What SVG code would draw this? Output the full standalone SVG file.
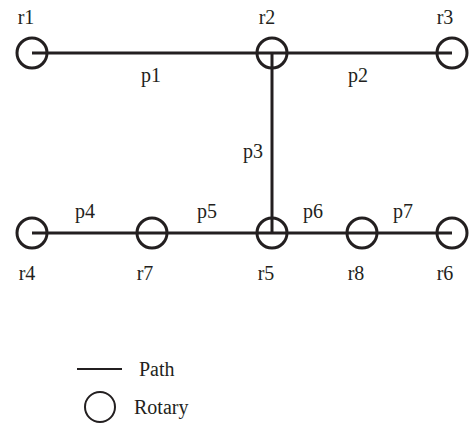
<svg xmlns="http://www.w3.org/2000/svg" width="471" height="432" viewBox="0 0 471 432">
  <style>
    .bg { fill: #ffffff; }
    .path { stroke: #231f20; stroke-width: 3; fill: none; }
    .rotary { stroke: #231f20; stroke-width: 3; fill: none; }
    .lbl { font-family: "Liberation Serif", "Times New Roman", serif; font-size: 20px; fill: #231f20; text-anchor: middle; }
    .leg { font-family: "Liberation Serif", "Times New Roman", serif; font-size: 20px; fill: #231f20; }
  </style>
  <rect class="bg" x="0" y="0" width="471" height="432"/>

  <!-- paths between rotaries -->
  <g id="connectors">
    <line id="p1" class="path" x1="32" y1="53" x2="272" y2="53"/>
    <line id="p2" class="path" x1="272" y1="53" x2="452" y2="53"/>
    <line id="p3" class="path" x1="272" y1="53" x2="272" y2="233"/>
    <line id="p4" class="path" x1="32" y1="233" x2="152" y2="233"/>
    <line id="p5" class="path" x1="152" y1="233" x2="272" y2="233"/>
    <line id="p6" class="path" x1="272" y1="233" x2="362" y2="233"/>
    <line id="p7" class="path" x1="362" y1="233" x2="452" y2="233"/>
    <text class="lbl" x="151" y="82">p1</text>
    <text class="lbl" x="358" y="82">p2</text>
    <text class="lbl" x="253" y="158">p3</text>
    <text class="lbl" x="85" y="218">p4</text>
    <text class="lbl" x="207" y="218">p5</text>
    <text class="lbl" x="313" y="218">p6</text>
    <text class="lbl" x="403" y="218">p7</text>
  </g>

  <!-- rotaries -->
  <g id="r1"><circle class="rotary" cx="32" cy="53" r="15"/><text class="lbl" x="26" y="24">r1</text></g>
  <g id="r2"><circle class="rotary" cx="272" cy="53" r="15"/><text class="lbl" x="267" y="24">r2</text></g>
  <g id="r3"><circle class="rotary" cx="452" cy="53" r="15"/><text class="lbl" x="445" y="24">r3</text></g>
  <g id="r4"><circle class="rotary" cx="32" cy="233" r="15"/><text class="lbl" x="27" y="280">r4</text></g>
  <g id="r7"><circle class="rotary" cx="152" cy="233" r="15"/><text class="lbl" x="145" y="280">r7</text></g>
  <g id="r5"><circle class="rotary" cx="272" cy="233" r="15"/><text class="lbl" x="266" y="280">r5</text></g>
  <g id="r8"><circle class="rotary" cx="362" cy="233" r="15"/><text class="lbl" x="356" y="280">r8</text></g>
  <g id="r6"><circle class="rotary" cx="452" cy="233" r="15"/><text class="lbl" x="445" y="280">r6</text></g>

  <!-- legend -->
  <g id="legend">
    <line x1="77" y1="369" x2="122" y2="369" stroke="#231f20" stroke-width="2"/>
    <text class="leg" x="139" y="376">Path</text>
    <circle cx="100" cy="407" r="15" fill="none" stroke="#231f20" stroke-width="2"/>
    <text class="leg" x="134" y="414">Rotary</text>
  </g>
</svg>
